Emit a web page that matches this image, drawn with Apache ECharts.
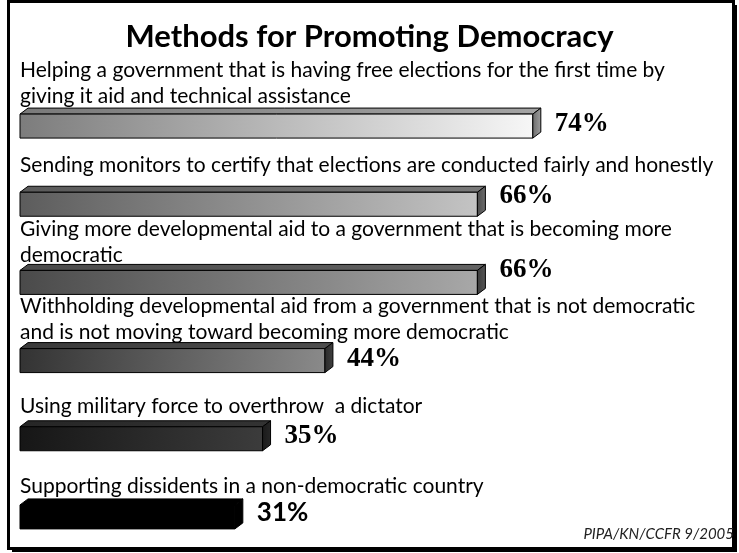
<!DOCTYPE html>
<html>
<head>
<meta charset="utf-8">
<script src="https://cdn.jsdelivr.net/npm/echarts@6/dist/echarts.min.js"></script>
<style>
  html, body { margin: 0; padding: 0; background: #fff; }
  #chart { width: 739px; height: 553px; }
</style>
</head>
<body>
<div id="chart"></div>
<script>
// ---- data ----
const titleText = 'Methods for Promoting Democracy';
const methods = [
  'Helping a government that is having free elections for the first time by\ngiving it aid and technical assistance',
  'Sending monitors to certify that elections are conducted fairly and honestly',
  'Giving more developmental aid to a government that is becoming more\ndemocratic',
  'Withholding developmental aid from a government that is not democratic\nand is not moving toward becoming more democratic',
  'Using military force to overthrow  a dictator',
  'Supporting dissidents in a non-democratic country'
];
const support = [74, 66, 66, 44, 35, 31];
const sourceNote = 'PIPA/KN/CCFR 9/2005';

// ---- styling ----
// [front left, front right, top face, side face]
const shades = [
  ['#7c7c7c', '#f7f7f7', '#7a7a7a', '#6a6a6a'],
  ['#5c5c5c', '#c4c4c4', '#5a5a5a', '#4a4a4a'],
  ['#4a4a4a', '#a8a8a8', '#4a4a4a', '#3a3a3a'],
  ['#333333', '#8a8a8a', '#3a3a3a', '#2a2a2a'],
  ['#161616', '#3c3c3c', '#262626', '#1a1a1a'],
  ['#000000', '#000000', '#000000', '#000000']
];
// vertical placement of the method text (last line) and the value text, px from band centre
const textLift = [27, 36, 24, 25, 30, 28];
const valueShift = [1, -5, -9, 1, 0, -1];
const valueFonts = [
  'bold 27px "Liberation Serif"', 'bold 27px "Liberation Serif"', 'bold 27px "Liberation Serif"',
  'bold 27px "Liberation Serif"', 'bold 27px "Liberation Serif"', 'bold 26px Lato'
];

const chart = echarts.init(document.getElementById('chart'));

const BAR_H = 30, DX = 8, DY = 6;

function renderItem(params, api) {
  const i = api.value(1);
  const v = api.value(0);
  const p0 = api.coord([0, i]);
  const p1 = api.coord([v, i]);
  const cy = p0[1];
  const x0 = p0[0], x1 = p1[0];
  const yTop = cy - BAR_H / 2;
  const fy = yTop + DY;
  const yb = cy + BAR_H / 2;
  const s = shades[i];
  const stroke = '#000';
  return {
    type: 'group',
    children: [
      {
        type: 'polygon',
        shape: { points: [[x0, fy], [x0 + DX, yTop], [x1 + DX, yTop], [x1, fy]] },
        style: {
          fill: new echarts.graphic.LinearGradient(0, 0, 1, 0, [
            { offset: 0, color: s[2] },
            { offset: 1, color: i === 5 ? '#000' : echarts.color.lift(s[2], -0.35) }
          ]),
          stroke: stroke, lineWidth: 1
        }
      },
      {
        type: 'rect',
        shape: { x: x0, y: fy, width: x1 - x0, height: yb - fy },
        style: {
          fill: new echarts.graphic.LinearGradient(0, 0, 1, 1, [
            { offset: 0, color: s[0] },
            { offset: 1, color: s[1] }
          ]),
          stroke: stroke, lineWidth: 1
        }
      },
      {
        type: 'polygon',
        shape: { points: [[x1, fy], [x1 + DX, yTop], [x1 + DX, yb - DY], [x1, yb]] },
        style: {
          fill: new echarts.graphic.LinearGradient(0, 0, 1, 0, [
            { offset: 0, color: s[3] },
            { offset: 1, color: i === 5 ? '#000' : echarts.color.lift(s[3], -0.5) }
          ]),
          stroke: stroke, lineWidth: 1
        }
      },
      {
        type: 'text',
        style: {
          text: methods[i],
          x: 20,
          y: cy - textLift[i] + 13,
          verticalAlign: 'bottom',
          align: 'left',
          lineHeight: 26,
          font: '21px Lato',
          fill: '#000'
        }
      },
      {
        type: 'text',
        style: {
          text: support[i] + '%',
          x: x1 + DX + 14,
          y: cy + valueShift[i],
          verticalAlign: 'middle',
          align: 'left',
          font: valueFonts[i],
          fill: '#000'
        }
      }
    ]
  };
}

chart.setOption({
  animation: false,
  backgroundColor: '#fff',
  title: {
    text: titleText,
    left: 'center',
    top: 16,
    textStyle: { fontFamily: 'Lato', fontWeight: 'bold', fontSize: 31, color: '#000' }
  },
  grid: { left: 20, width: 693, top: 84, height: 474.6 },
  xAxis: { type: 'value', min: 0, max: 100, show: false },
  yAxis: { type: 'category', data: methods, inverse: true, show: false },
  series: [{
    type: 'custom',
    renderItem: renderItem,
    data: support.map((v, i) => [v, i]),
    clip: false
  }],
  graphic: [
    // shadow of the frame
    { type: 'rect', shape: { x: 733, y: 5, width: 4, height: 547 }, style: { fill: '#000' } },
    { type: 'rect', shape: { x: 12, y: 548, width: 725, height: 4 }, style: { fill: '#000' } },
    // frame
    { type: 'rect', shape: { x: 8.5, y: 1.5, width: 725, height: 547 }, style: { fill: 'none', stroke: '#000', lineWidth: 3 } },
    {
      type: 'text', right: 5, top: 527,
      style: { text: sourceNote, font: 'italic 15px Lato', fill: '#222' }
    }
  ]
});
</script>
</body>
</html>
